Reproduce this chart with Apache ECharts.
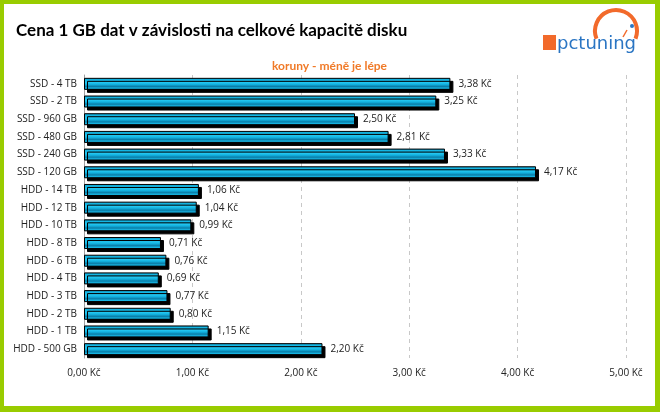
<!DOCTYPE html>
<html>
<head>
<meta charset="utf-8">
<script src="https://cdn.jsdelivr.net/npm/echarts@6/dist/echarts.min.js"></script>
<style>
  html, body { margin: 0; padding: 0; background: #99cc00; }
  #chart { position: absolute; left: 4px; top: 4px; width: 651px; height: 402px; background: #fff; }
</style>
</head>
<body>
<div id="chart"></div>
<script>
  // kategorie a ceny za 1 GB (Kč)
  var categories = ['SSD - 4 TB', 'SSD - 2 TB', 'SSD - 960 GB', 'SSD - 480 GB', 'SSD - 240 GB', 'SSD - 120 GB',
    'HDD - 14 TB', 'HDD - 12 TB', 'HDD - 10 TB', 'HDD - 8 TB', 'HDD - 6 TB', 'HDD - 4 TB',
    'HDD - 3 TB', 'HDD - 2 TB', 'HDD - 1 TB', 'HDD - 500 GB'];
  var prices = [3.38, 3.25, 2.50, 2.81, 3.33, 4.17, 1.06, 1.04, 0.99, 0.71, 0.76, 0.69, 0.77, 0.80, 1.15, 2.20];
  var xTicks = [0, 1, 2, 3, 4, 5];

  function kc(v) {
    return v.toFixed(2).replace('.', ',') + ' Kč';
  }

  var chart = echarts.init(document.getElementById('chart'));
  chart.setOption({
    animation: false,
    textStyle: { fontFamily: 'Open Sans' },
    title: [
      {
        text: 'Cena 1 GB dat v závislosti na celkové kapacitě disku',
        left: 7, top: 13,
        textStyle: { fontSize: 17, fontWeight: 'bold', color: '#000', fontFamily: 'Lato' }
      },
      {
        text: 'koruny - méně je lépe',
        left: 'center', top: 51,
        textStyle: { fontSize: 12, fontWeight: 'bold', color: '#f07a28', fontFamily: 'Lato' }
      }
    ],
    // logo pctuning
    graphic: [
      { type: 'rect', left: 539, top: 31, shape: { width: 13, height: 15 }, style: { fill: '#f26a2b' } },
      { type: 'arc', shape: { cx: 612, cy: 27, r: 21, startAngle: Math.PI * 0.88, endAngle: Math.PI * 2.12 },
        style: { stroke: '#f26a2b', lineWidth: 4, fill: null } },
      { type: 'line', shape: { x1: 619, y1: 33, x2: 623, y2: 26 }, style: { stroke: '#f26a2b', lineWidth: 1.5 } },
      { type: 'circle', shape: { cx: 628, cy: 22, r: 2 }, style: { fill: '#2a75c3' } },
      { type: 'text', left: 553, top: 31, style: { text: 'pctuning', fill: '#2a75c3', font: '18px DejaVu Sans' } }
    ],
    grid: { left: 80, right: 29, top: 71, bottom: 48 },
    xAxis: {
      type: 'value',
      min: 0, max: 5, interval: 1,
      axisLine: { show: false },
      axisTick: { show: false },
      splitLine: { lineStyle: { type: [4, 4], color: '#c8c8c8' } },
      axisLabel: {
        margin: 10, fontSize: 10, color: '#222',
        formatter: function (v) { return xTicks.indexOf(v) >= 0 ? kc(v) : ''; }
      }
    },
    yAxis: {
      type: 'category',
      inverse: true,
      data: categories,
      axisLine: { lineStyle: { color: '#a0a0a0' } },
      axisTick: { show: false },
      axisLabel: { fontSize: 10, color: '#222', margin: 7 }
    },
    series: [{
      type: 'bar',
      data: prices,
      barWidth: '68%',
      itemStyle: {
        borderColor: '#000',
        borderWidth: 1,
        shadowColor: '#000',
        shadowBlur: 0,
        shadowOffsetX: 3,
        shadowOffsetY: 3,
        color: new echarts.graphic.LinearGradient(0, 0, 0, 1, [
          { offset: 0, color: '#0a7fa6' },
          { offset: 0.15, color: '#12b4e2' },
          { offset: 0.4, color: '#22c6f0' },
          { offset: 0.55, color: '#12b0de' },
          { offset: 0.72, color: '#0a7ea8' },
          { offset: 0.87, color: '#16b6e4' },
          { offset: 1, color: '#05597a' }
        ])
      },
      label: {
        show: true,
        position: 'right',
        distance: 8,
        fontSize: 10,
        color: '#222',
        formatter: function (p) { return kc(p.value); }
      }
    }]
  });
</script>
</body>
</html>
